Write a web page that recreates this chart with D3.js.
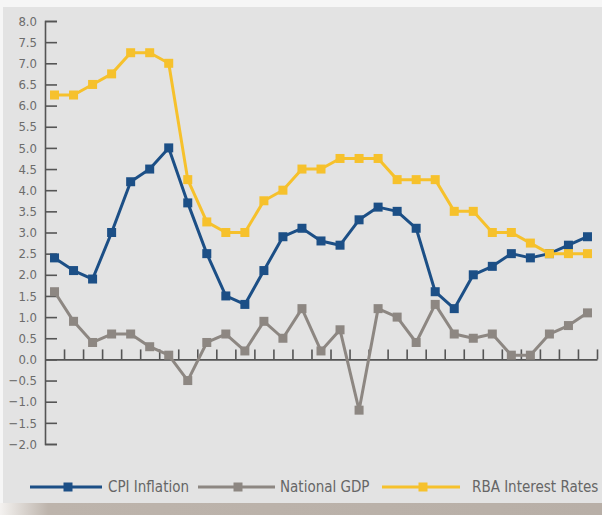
<!DOCTYPE html>
<html>
<head>
<meta charset="utf-8">
<script src="https://cdn.jsdelivr.net/npm/d3@7"></script>
<style>
  body { margin: 0; background: #ffffff; }
  #chart text { font-family: "Liberation Sans Narrow", "DejaVu Sans Condensed", "Noto Sans", sans-serif; }
</style>
</head>
<body>
<div id="chart"></div>
<script>
// values, one per period
const cpi = [2.4, 2.1, 1.9, 3.0, 4.2, 4.5, 5.0, 3.7, 2.5, 1.5, 1.3, 2.1, 2.9, 3.1, 2.8, 2.7, 3.3, 3.6, 3.5, 3.1, 1.6, 1.2, 2.0, 2.2, 2.5, 2.4, 2.5, 2.7, 2.9];
const gdp = [1.6, 0.9, 0.4, 0.6, 0.6, 0.3, 0.1, -0.5, 0.4, 0.6, 0.2, 0.9, 0.5, 1.2, 0.2, 0.7, -1.2, 1.2, 1.0, 0.4, 1.3, 0.6, 0.5, 0.6, 0.1, 0.1, 0.6, 0.8, 1.1];
const rba = [6.25, 6.25, 6.5, 6.75, 7.25, 7.25, 7.0, 4.25, 3.25, 3.0, 3.0, 3.75, 4.0, 4.5, 4.5, 4.75, 4.75, 4.75, 4.25, 4.25, 4.25, 3.5, 3.5, 3.0, 3.0, 2.75, 2.5, 2.5, 2.5];
const periods = d3.range(cpi.length);
const yTicks = [-2.0, -1.5, -1.0, -0.5, 0.0, 0.5, 1.0, 1.5, 2.0, 2.5, 3.0, 3.5, 4.0, 4.5, 5.0, 5.5, 6.0, 6.5, 7.0, 7.5, 8.0];
const seriesNames = ["CPI Inflation", "National GDP", "RBA Interest Rates"];
const seriesColors = ["#1c4f86", "#8d8782", "#f6c12c"];

const W = 602, H = 515;

const svg = d3.select("#chart")
  .append("svg")
  .attr("width", W)
  .attr("height", H);

// panel + shadow
const shadow = svg.append("defs").append("linearGradient")
  .attr("id", "shade").attr("x1", "0").attr("x2", "1");
shadow.append("stop").attr("offset", "0").attr("stop-color", "#f4f2f0");
shadow.append("stop").attr("offset", "0.08").attr("stop-color", "#bdb4ac");
shadow.append("stop").attr("offset", "1").attr("stop-color", "#b8afa7");

svg.append("rect").attr("x", 0).attr("y", 0).attr("width", W).attr("height", H).attr("fill", "#f6f6f6");
svg.append("rect").attr("x", 0).attr("y", 503).attr("width", W).attr("height", 12).attr("fill", "url(#shade)");
svg.append("rect").attr("x", 3).attr("y", 7).attr("width", W - 3).attr("height", 496).attr("fill", "#e3e3e3");

const x = d3.scaleBand().domain(periods).range([45, 597]);
const xEdge = d3.scaleLinear().domain([0, periods.length]).range([45, 597]);
const y = d3.scaleLinear().domain([-2, 8]).range([444, 21]);

// y axis, ticks pointing inward
const yAxis = svg.append("g")
  .attr("transform", "translate(45,0)")
  .call(d3.axisLeft(y).tickValues(yTicks).tickFormat(d3.format(".1f"))
    .tickSizeInner(-12).tickSizeOuter(-12).tickPadding(8));
yAxis.selectAll("path, line").attr("stroke", "#555").attr("stroke-width", 1.6);
yAxis.selectAll("text").attr("fill", "#6c6c6c").attr("font-size", 13);

// x axis along zero, ticks at period boundaries
const xAxis = svg.append("g")
  .attr("transform", `translate(0,${y(0)})`)
  .call(d3.axisTop(xEdge).tickValues(d3.range(1, periods.length + 1)).tickSize(10).tickSizeOuter(0).tickFormat(""));
xAxis.selectAll("path, line").attr("stroke", "#555").attr("stroke-width", 1.6);

const line = d3.line()
  .x((d, i) => x(i) + x.bandwidth() / 2)
  .y(d => y(d));

// drawn back to front: GDP, CPI, RBA
const allSeries = [gdp, cpi, rba];
const colorsBy = [seriesColors[1], seriesColors[0], seriesColors[2]];

allSeries.forEach((vals, k) => {
  const g = svg.append("g");
  g.append("path")
    .datum(vals)
    .attr("fill", "none")
    .attr("stroke", colorsBy[k])
    .attr("stroke-width", 3)
    .attr("stroke-linejoin", "round")
    .attr("d", line);
  g.selectAll("rect")
    .data(vals)
    .join("rect")
    .attr("x", (d, i) => x(i) + x.bandwidth() / 2 - 4.5)
    .attr("y", d => y(d) - 4.5)
    .attr("width", 9)
    .attr("height", 9)
    .attr("fill", colorsBy[k]);
});

// legend
const legendItems = [
  {x1: 30, x2: 102, mk: 68, tx: 108},
  {x1: 198, x2: 275, mk: 238, tx: 280},
  {x1: 382, x2: 460, mk: 423, tx: 472}
];
const legend = svg.append("g");
legendItems.forEach((it, i) => {
  legend.append("line")
    .attr("x1", it.x1).attr("x2", it.x2)
    .attr("y1", 487).attr("y2", 487)
    .attr("stroke", seriesColors[i]).attr("stroke-width", 3);
  legend.append("rect")
    .attr("x", it.mk - 4.5).attr("y", 482.5)
    .attr("width", 9).attr("height", 9)
    .attr("fill", seriesColors[i]);
  legend.append("text")
    .attr("x", it.tx).attr("y", 492)
    .attr("fill", "#666")
    .attr("font-size", 15)
    .text(seriesNames[i]);
});
</script>
</body>
</html>
